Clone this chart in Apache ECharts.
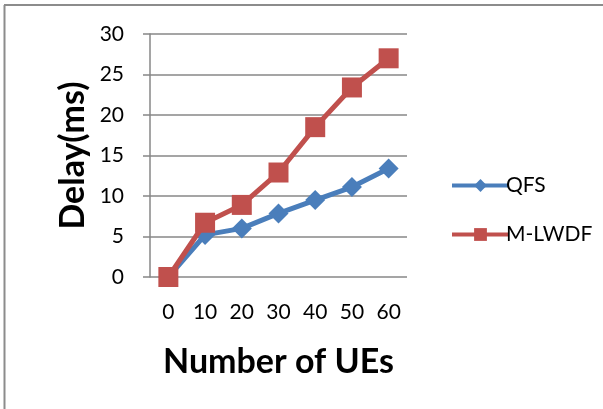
<!DOCTYPE html>
<html>
<head>
<meta charset="utf-8">
<script src="https://cdn.jsdelivr.net/npm/echarts@6/dist/echarts.min.js"></script>
<style>
  html, body { margin: 0; padding: 0; background: #fff; }
  #chart { width: 603px; height: 409px; }
</style>
</head>
<body>
<div id="chart"></div>
<script>
// Number of UEs on the x axis
const ueCounts = ['0', '10', '20', '30', '40', '50', '60'];
// Average delay (ms) per scheduler
const qfsDelay = [0, 5.2, 6.0, 7.85, 9.5, 11.1, 13.4];
const mlwdfDelay = [0, 6.7, 8.9, 12.9, 18.5, 23.4, 27.0];
const seriesNames = ['QFS', 'M-LWDF'];

const FONT = 'Lato, "Open Sans", sans-serif';
const GRID_GRAY = '#878787';

const chart = echarts.init(document.getElementById('chart'), null, { renderer: 'canvas' });

chart.setOption({
  animation: false,
  backgroundColor: '#ffffff',
  textStyle: { fontFamily: FONT },
  graphic: [
    // frame around the figure
    { type: 'line', shape: { x1: 4, y1: 5, x2: 603, y2: 5 }, style: { stroke: '#8c8c8c', lineWidth: 2 } },
    { type: 'line', shape: { x1: 4.5, y1: 5, x2: 4.5, y2: 409 }, style: { stroke: '#8c8c8c', lineWidth: 2 } }
  ],
  grid: { left: 150, right: 196, top: 34, bottom: 132, containLabel: false },
  legend: {
    orient: 'vertical',
    left: 445,
    top: 170,
    itemWidth: 57,
    itemHeight: 16,
    itemGap: 28,
    lineStyle: { width: 4 },
    textStyle: { fontFamily: FONT, fontSize: 21, color: '#000', padding: [0, 0, 0, -8] },
    data: seriesNames
  },
  xAxis: {
    type: 'category',
    data: ueCounts,
    boundaryGap: true,
    name: 'Number of UEs',
    nameLocation: 'middle',
    nameGap: 68,
    nameTextStyle: { fontFamily: FONT, fontSize: 34, fontWeight: 'bold', color: '#000' },
    axisLine: { show: false },
    axisTick: { show: false },
    axisLabel: { margin: 25, fontSize: 21, color: '#000', fontFamily: FONT },
    splitLine: { show: false }
  },
  yAxis: {
    type: 'value',
    min: 0,
    max: 30,
    interval: 5,
    name: 'Delay(ms)',
    nameLocation: 'middle',
    nameGap: 60,
    nameRotate: 90,
    nameTextStyle: { fontFamily: FONT, fontSize: 34, fontWeight: 'bold', color: '#000' },
    axisLine: { show: true, lineStyle: { color: GRID_GRAY, width: 1.5 } },
    axisTick: { show: true, length: 7, lineStyle: { color: GRID_GRAY, width: 1.5 } },
    axisLabel: { margin: 26, fontSize: 21, color: '#000', fontFamily: FONT },
    splitLine: { show: true, lineStyle: { color: GRID_GRAY, width: 1.5 } }
  },
  series: [
    {
      name: seriesNames[0],
      type: 'line',
      data: qfsDelay,
      symbol: 'diamond',
      symbolSize: 20,
      lineStyle: { color: '#4a7ebb', width: 5 },
      itemStyle: { color: '#4a7ebb' },
      z: 2
    },
    {
      name: seriesNames[1],
      type: 'line',
      data: mlwdfDelay,
      symbol: 'rect',
      symbolSize: 20,
      lineStyle: { color: '#c0504d', width: 5 },
      itemStyle: { color: '#c0504d' },
      z: 3
    }
  ]
});
</script>
</body>
</html>
